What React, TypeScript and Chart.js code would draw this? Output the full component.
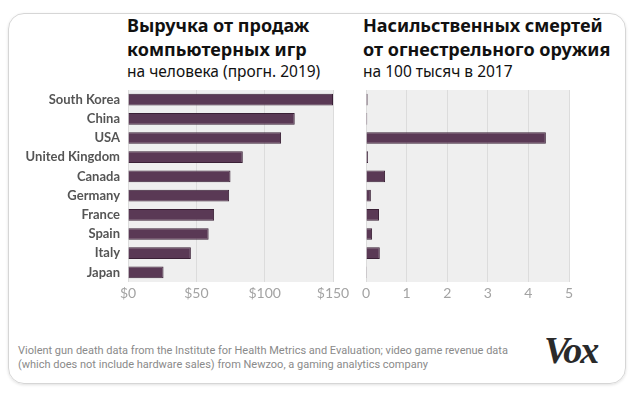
import React, { useEffect, useRef } from "react";
import { Chart, registerables } from "chart.js";

Chart.register(...registerables);

const countries = ["South Korea", "China", "USA", "United Kingdom", "Canada", "Germany", "France", "Spain", "Italy", "Japan"];
const revenuePerCapita = [150, 122, 112, 84, 75, 74, 63, 59, 46, 26];
const gunDeathsPer100k = [0.04, 0.03, 4.43, 0.05, 0.47, 0.12, 0.32, 0.15, 0.34, 0.02];
const revenueTicks = [0, 50, 100, 150];
const deathTicks = [0, 1, 2, 3, 4, 5];

const BAR = "#5a3955";
const BAR_EDGE = "#3a2036";
const PLOT_BG = "#efefef";
const GRID = "#dcdcdc";

const plotBg = {
  id: "plotBg",
  beforeDraw(chart: any) {
    const { ctx, chartArea } = chart;
    if (!chartArea) return;
    ctx.save();
    ctx.fillStyle = PLOT_BG;
    ctx.fillRect(chartArea.left, chartArea.top, chartArea.right - chartArea.left, chartArea.bottom - chartArea.top);
    ctx.restore();
  },
};

function makeConfig(values: number[], tickValues: number[], showLabels: boolean, fmt: (v: number) => string, padLeft: number, padRight: number) {
  const max = tickValues[tickValues.length - 1];
  const yScale: any = showLabels
    ? {
        display: true,
        afterFit: (s: any) => {
          s.width = 128;
          s.paddingTop = 0;
          s.paddingBottom = 0;
        },
        ticks: {
          autoSkip: false,
          padding: 8,
          color: "#555",
          font: { family: "Lato", size: 13, weight: "bold" },
        },
        grid: { display: false, drawTicks: false },
        border: { display: false },
      }
    : { display: false };
  return {
    type: "bar" as const,
    data: {
      labels: countries,
      datasets: [
        {
          data: values,
          backgroundColor: BAR,
          borderColor: BAR_EDGE,
          borderWidth: 1,
          categoryPercentage: 1,
          barPercentage: 0.61,
        },
      ],
    },
    options: {
      indexAxis: "y" as const,
      responsive: false,
      animation: false as const,
      layout: { padding: { top: 5, left: padLeft, right: padRight, bottom: 0 } },
      plugins: { legend: { display: false }, tooltip: { enabled: false } },
      scales: {
        x: {
          min: 0,
          max,
          afterFit: (s: any) => {
            s.height = 23;
            s.paddingLeft = 0;
            s.paddingRight = 0;
          },
          afterBuildTicks: (s: any) => {
            s.ticks = tickValues.map((v) => ({ value: v }));
          },
          ticks: {
            autoSkip: false,
            maxRotation: 0,
            padding: 3,
            color: "#a3a3a3",
            font: { family: "Lato", size: 14 },
            callback: (v: any) => fmt(Number(v)),
          },
          grid: { color: GRID, drawTicks: false, lineWidth: 1 },
          border: { display: false },
        },
        y: yScale,
      },
    },
    plugins: [plotBg],
  };
}

function BarChart(props: { left: number; width: number; values: number[]; ticks: number[]; showLabels: boolean; fmt: (v: number) => string; padLeft: number; padRight: number }) {
  const ref = useRef<HTMLCanvasElement>(null);
  useEffect(() => {
    if (!ref.current) return;
    const chart = new Chart(ref.current, makeConfig(props.values, props.ticks, props.showLabels, props.fmt, props.padLeft, props.padRight) as any);
    return () => chart.destroy();
  }, []);
  return (
    <canvas
      ref={ref}
      width={props.width}
      height={220}
      style={{ position: "absolute", left: props.left, top: 85, width: props.width, height: 220 }}
    />
  );
}

export default function App() {
  const titleStyle: React.CSSProperties = {
    position: "absolute",
    fontFamily: "'Noto Sans', sans-serif",
    fontWeight: 700,
    fontSize: 18,
    lineHeight: "24px",
    color: "#111",
    whiteSpace: "nowrap",
  };
  const subStyle: React.CSSProperties = {
    fontWeight: 400,
    fontSize: 15.5,
    lineHeight: "20px",
  };
  return (
    <div style={{ position: "fixed", left: 0, top: 0, width: 640, height: 395, background: "#fff", overflow: "hidden" }}>
      <div
        style={{
          position: "absolute",
          left: 8,
          top: 13,
          width: 618,
          height: 371,
          border: "1.5px solid #d6d6d6",
          borderRadius: 16,
          boxShadow: "0 1px 3px rgba(0,0,0,0.12)",
          boxSizing: "border-box",
        }}
      />
      <div style={{ ...titleStyle, left: 127, top: 13 }}>
        Выручка от продаж
        <br />
        компьютерных игр
        <div style={subStyle}>на человека (прогн. 2019)</div>
      </div>
      <div style={{ ...titleStyle, left: 363, top: 13 }}>
        Насильственных смертей
        <br />
        от огнестрельного оружия
        <div style={subStyle}>на 100 тысяч в 2017</div>
      </div>
      <BarChart left={0} width={350} values={revenuePerCapita} ticks={revenueTicks} showLabels={true} fmt={(v) => "$" + v} padLeft={0} padRight={17} />
      <BarChart left={350} width={290} values={gunDeathsPer100k} ticks={deathTicks} showLabels={false} fmt={(v) => String(v)} padLeft={16} padRight={71} />
      <div
        style={{
          position: "absolute",
          left: 18,
          top: 344,
          fontFamily: "Roboto, sans-serif",
          fontSize: 11,
          lineHeight: "14px",
          color: "#8a8a8a",
          whiteSpace: "nowrap",
        }}
      >
        Violent gun death data from the Institute for Health Metrics and Evaluation; video game revenue data
        <br />
        (which does not include hardware sales) from Newzoo, a gaming analytics company
      </div>
      <div
        style={{
          position: "absolute",
          left: 544,
          top: 328,
          fontFamily: "'Liberation Serif', serif",
          fontWeight: 700,
          fontStyle: "italic",
          fontSize: 38,
          letterSpacing: -2,
          color: "#2a2a2a",
          lineHeight: "44px",
        }}
      >
        Vox
      </div>
    </div>
  );
}
